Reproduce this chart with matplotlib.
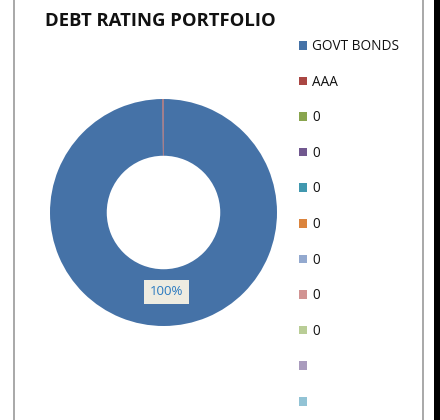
import matplotlib
matplotlib.use("Agg")
import matplotlib.pyplot as plt
from matplotlib.patches import Rectangle
from matplotlib.lines import Line2D
import numpy as np

# Portfolio split by debt rating
categories = ["GOVT BONDS", "AAA", "0", "0", "0", "0", "0", "0", "0", "", ""]
values = [99.85, 0.15, 0, 0, 0, 0, 0, 0, 0, 0, 0]
colors = ["#4572A7", "#AA4643", "#89A54E", "#71588F", "#4198AF", "#DB843D",
          "#93A9CF", "#D19392", "#B9CD96", "#A99BBD", "#92C3D5"]
title = "DEBT RATING PORTFOLIO"

W, H = 440, 420
fig = plt.figure(figsize=(W / 100, H / 100), dpi=100)
fig.patch.set_facecolor("white")

font = ["Open Sans", "DejaVu Sans"]

# chart frame
fig.add_artist(Line2D([13.5 / W, 13.5 / W], [0, 1], color="#9a9a9a", lw=1.2))
fig.add_artist(Line2D([422.5 / W, 422.5 / W], [0, 1], color="#9a9a9a", lw=1.2))
fig.add_artist(Rectangle((434 / W, 0), 6 / W, 1, color="black", lw=0))

# donut
cx, cy, r = 163.5, 212.5, 113.5
ax = fig.add_axes([(cx - r) / W, (H - cy - r) / H, 2 * r / W, 2 * r / H])
wedges, _ = ax.pie(values, colors=colors, startangle=90, counterclock=False,
                   radius=1.0, wedgeprops=dict(width=0.5, edgecolor="none"))
ax.set_xlim(-1, 1)
ax.set_ylim(-1, 1)
ax.set_aspect("equal")
ax.axis("off")

# percentage label for the dominant slice
total = sum(values)
theta = np.deg2rad(90 - 360 * (values[0] / 2) / total)
lr = 0.70
ax.text(lr * np.cos(theta) + 0.02, lr * np.sin(theta), f"{values[0] / total * 100:.0f}%",
        ha="center", va="center", fontsize=9.5, color="#2A7AC0", family=font,
        bbox=dict(boxstyle="square,pad=0.45", facecolor="#EEECE1", edgecolor="none"))

fig.text(45 / W, 1 - 21 / H, title, fontsize=13.3, fontweight="bold",
         family=font, va="center", ha="left", color="#111111")

leg = fig.legend(wedges, categories, loc="upper left",
                 bbox_to_anchor=(299 / W, 1 - 39 / H), frameon=False,
                 prop=dict(family=font, size=9.8), handlelength=0.6,
                 handleheight=0.6, handletextpad=0.35, labelspacing=1.515,
                 borderaxespad=0, borderpad=0)
for t in leg.get_texts():
    t.set_color("#111111")

fig.savefig("out.png", dpi=100, facecolor="white")
